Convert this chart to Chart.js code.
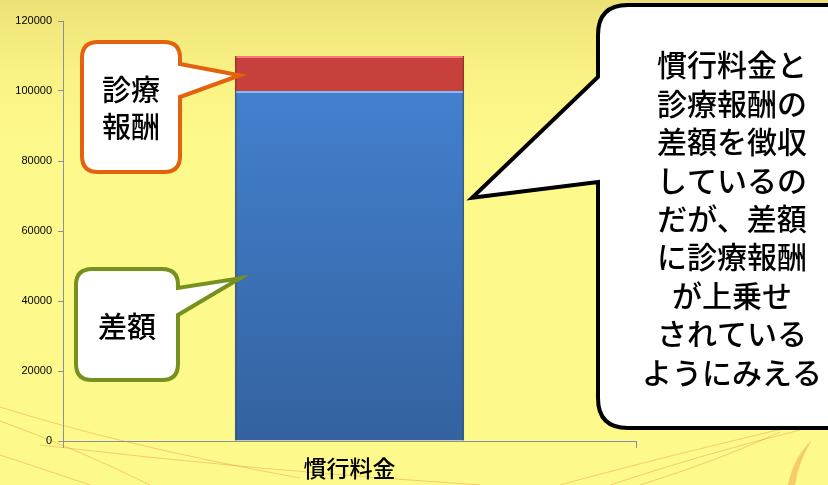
<!DOCTYPE html>
<html lang="ja">
<head>
<meta charset="utf-8">
<script src="https://cdn.jsdelivr.net/npm/chart.js@4.4.1/dist/chart.umd.min.js"></script>
<style>
  html, body { margin: 0; padding: 0; background: #fef98b; }
  canvas { display: block; }
</style>
</head>
<body>
<canvas id="feeChart" width="828" height="485"></canvas>
<script>
// chart data
var categories = ['慣行料金'];
var gapValues = [100000];      // 差額
var feeValues = [10000];       // 診療報酬
var yTicks = [0, 20000, 40000, 60000, 80000, 100000, 120000];

var JP_FONT = '"Noto Sans CJK JP", "Noto Sans", sans-serif';
var AXIS_COLOR = '#8a8ea8';

// paper-like yellow background with a few thin orange strokes
var backgroundPlugin = {
    id: 'paperBackground',
    beforeDraw: function (chart) {
        var ctx = chart.ctx;
        var w = chart.width, h = chart.height;
        ctx.save();
        ctx.fillStyle = '#fef98b';
        ctx.fillRect(0, 0, w, h);

        var top = ctx.createLinearGradient(0, 0, 0, 140);
        top.addColorStop(0, 'rgba(215,195,95,0.45)');
        top.addColorStop(0.5, 'rgba(225,205,100,0.18)');
        top.addColorStop(1, 'rgba(225,205,100,0)');
        ctx.fillStyle = top;
        ctx.fillRect(0, 0, w, 140);

        ctx.strokeStyle = 'rgba(228,110,40,0.32)';
        ctx.lineWidth = 1;
        var curves = [
            [0, 407, 120, 445, 300, 478],
            [0, 421, 80, 450, 150, 485],
            [0, 455, 40, 468, 90, 485],
            [40, 445, 250, 470, 480, 485],
            [560, 485, 650, 460, 828, 418],
            [610, 485, 700, 455, 800, 430],
            [640, 485, 720, 460, 780, 432]
        ];
        curves.forEach(function (c) {
            ctx.beginPath();
            ctx.moveTo(c[0], c[1]);
            ctx.quadraticCurveTo(c[2], c[3], c[4], c[5]);
            ctx.stroke();
        });

        // hatched leaf shape near the lower right corner
        ctx.fillStyle = 'rgba(225,120,50,0.35)';
        ctx.beginPath();
        ctx.moveTo(812, 440);
        ctx.quadraticCurveTo(793, 458, 788, 485);
        ctx.lineTo(795, 485);
        ctx.quadraticCurveTo(799, 460, 812, 440);
        ctx.fill();
        ctx.restore();
    }
};

// soft highlight along the top edge of each bar segment
var bevelPlugin = {
    id: 'barBevel',
    afterDatasetsDraw: function (chart) {
        var ctx = chart.ctx;
        var hi = ['rgba(140,200,255,0.9)', 'rgba(255,130,130,0.9)'];
        chart.data.datasets.forEach(function (ds, i) {
            chart.getDatasetMeta(i).data.forEach(function (bar) {
                var left = bar.x - bar.width / 2;
                ctx.save();
                ctx.fillStyle = hi[i];
                ctx.fillRect(left + 1, bar.y, bar.width - 2, 2);
                ctx.fillStyle = 'rgba(0,0,0,0.12)';
                ctx.fillRect(left, bar.y, 2, bar.base - bar.y);
                ctx.fillRect(left + bar.width - 2, bar.y, 2, bar.base - bar.y);
                ctx.restore();
            });
        });
    }
};

// speech bubbles; the tail tips follow the bar through the scales
var callouts = [
    {
        box: { x: 82, y: 42, w: 98, h: 130, r: 16 }, side: 'right', t1: 64, t2: 97,
        target: { dataset: 1, edge: 'left', dx: 5, value: 104500 },
        stroke: '#e2620e', lineWidth: 4,
        lines: ['診療', '報酬'], size: 29, lineHeight: 37, cx: 131, firstY: 90
    },
    {
        box: { x: 76, y: 269, w: 102, h: 111, r: 16 }, side: 'right', t1: 288, t2: 315,
        target: { dataset: 0, edge: 'left', dx: 5, value: 46500 },
        stroke: '#76911f', lineWidth: 4,
        lines: ['差額'], size: 29, lineHeight: 37, cx: 127, firstY: 327
    },
    {
        box: { x: 598, y: 5, w: 262, h: 423, r: 30 }, side: 'left', t1: 77, t2: 182,
        target: { dataset: 0, edge: 'right', dx: 8, value: 69500 },
        stroke: '#000000', lineWidth: 4,
        lines: ['慣行料金と', '診療報酬の', '差額を徴収', 'しているの', 'だが、差額', 'に診療報酬', 'が上乗せ', 'されている', 'ようにみえる'],
        size: 30, lineHeight: 38.4, cx: 732, firstY: 65
    }
];

function bubblePath(ctx, b, side, t1, t2, tip) {
    var x0 = b.x, y0 = b.y, x1 = b.x + b.w, y1 = b.y + b.h, r = b.r;
    ctx.beginPath();
    ctx.moveTo(x0 + r, y0);
    ctx.lineTo(x1 - r, y0);
    ctx.quadraticCurveTo(x1, y0, x1, y0 + r);
    if (side === 'right') {
        ctx.lineTo(x1, t1);
        ctx.lineTo(tip.x, tip.y);
        ctx.lineTo(x1, t2);
    }
    ctx.lineTo(x1, y1 - r);
    ctx.quadraticCurveTo(x1, y1, x1 - r, y1);
    ctx.lineTo(x0 + r, y1);
    ctx.quadraticCurveTo(x0, y1, x0, y1 - r);
    if (side === 'left') {
        ctx.lineTo(x0, t2);
        ctx.lineTo(tip.x, tip.y);
        ctx.lineTo(x0, t1);
    }
    ctx.lineTo(x0, y0 + r);
    ctx.quadraticCurveTo(x0, y0, x0 + r, y0);
    ctx.closePath();
}

var calloutPlugin = {
    id: 'callouts',
    afterDraw: function (chart) {
        var ctx = chart.ctx;
        var yScale = chart.scales.y;
        callouts.forEach(function (c) {
            var bar = chart.getDatasetMeta(c.target.dataset).data[0];
            var edgeX = c.target.edge === 'left' ? bar.x - bar.width / 2 : bar.x + bar.width / 2;
            var tip = {
                x: edgeX + c.target.dx,
                y: yScale.getPixelForValue(c.target.value)
            };
            ctx.save();
            bubblePath(ctx, c.box, c.side, c.t1, c.t2, tip);
            ctx.fillStyle = '#ffffff';
            ctx.fill();
            ctx.lineWidth = c.lineWidth;
            ctx.lineJoin = 'miter';
            ctx.strokeStyle = c.stroke;
            ctx.stroke();

            ctx.fillStyle = '#000000';
            ctx.font = '500 ' + c.size + 'px ' + JP_FONT;
            ctx.textAlign = 'center';
            ctx.textBaseline = 'middle';
            c.lines.forEach(function (line, i) {
                ctx.fillText(line, c.cx, c.firstY + i * c.lineHeight);
            });
            ctx.restore();
        });
    }
};

function verticalFill(top, bottom) {
    return function (context) {
        var area = context.chart.chartArea;
        if (!area) return top;
        var g = context.chart.ctx.createLinearGradient(0, area.top, 0, area.bottom);
        g.addColorStop(0, top);
        g.addColorStop(1, bottom);
        return g;
    };
}

new Chart(document.getElementById('feeChart'), {
    type: 'bar',
    data: {
        labels: categories,
        datasets: [
            {
                label: '差額',
                data: gapValues,
                backgroundColor: verticalFill('#4686d8', '#34629f'),
                borderColor: '#2f5b94',
                borderWidth: 1,
                categoryPercentage: 0.4,
                barPercentage: 1
            },
            {
                label: '診療報酬',
                data: feeValues,
                backgroundColor: '#c8403b',
                borderColor: '#9e2e2c',
                borderWidth: 1,
                categoryPercentage: 0.4,
                barPercentage: 1
            }
        ]
    },
    options: {
        responsive: false,
        animation: false,
        layout: { padding: { top: 21, right: 192, bottom: 0, left: 0 } },
        plugins: {
            legend: { display: false },
            tooltip: { enabled: false }
        },
        scales: {
            x: {
                stacked: true,
                offset: true,
                afterFit: function (scale) { scale.height = 44; },
                border: { color: AXIS_COLOR, width: 1 },
                grid: { display: true, drawOnChartArea: false, drawTicks: true, tickLength: 7, color: AXIS_COLOR, offset: true },
                ticks: { color: '#000', padding: 6, font: { family: JP_FONT, size: 23, weight: '500' } }
            },
            y: {
                stacked: true,
                min: 0,
                max: 120000,
                afterFit: function (scale) { scale.width = 63; },
                afterBuildTicks: function (scale) {
                    scale.ticks = yTicks.map(function (v) { return { value: v }; });
                },
                border: { color: AXIS_COLOR, width: 1 },
                grid: { drawOnChartArea: false, drawTicks: true, tickLength: 5, color: AXIS_COLOR },
                ticks: {
                    color: '#000',
                    padding: 6,
                    font: { family: '"Liberation Sans", Arial, sans-serif', size: 11 },
                    callback: function (v) { return String(v); }
                }
            }
        }
    },
    plugins: [backgroundPlugin, bevelPlugin, calloutPlugin]
});
</script>
</body>
</html>
